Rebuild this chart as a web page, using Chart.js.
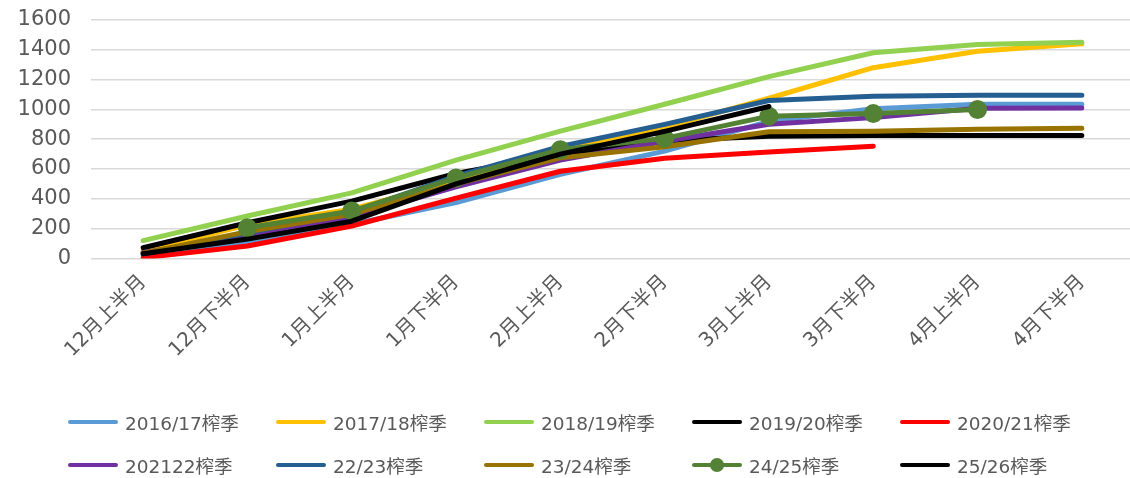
<!DOCTYPE html>
<html>
<head>
<meta charset="utf-8">
<script src="https://cdn.jsdelivr.net/npm/chart.js@4.4.0/dist/chart.umd.min.js"></script>
<style>
  body { margin: 0; background: #fff; }
  #wrap { position: relative; width: 1130px; height: 478px; overflow: hidden; }
  #legend {
    position: absolute; left: 68px; top: 410px;
    display: grid; grid-template-columns: repeat(5, 208px); row-gap: 19px;
    font-family: "DejaVu Sans", "Noto Sans CJK SC", sans-serif; font-size: 18.5px; color: #595959;
  }
  .item { display: flex; align-items: center; height: 24px; white-space: nowrap; }
  .swatch { position: relative; width: 50px; height: 4px; border-radius: 2px; margin-right: 7px; }
  .dot { position: absolute; left: 18px; top: -5px; width: 14px; height: 14px; border-radius: 7px; }
</style>
</head>
<body>
<div id="wrap">
  <canvas id="chart1" width="1146" height="478"></canvas>
  <div id="legend"></div>
</div>
<script>
// categories (half-month periods)
const periods = ['12月上半月', '12月下半月', '1月上半月', '1月下半月', '2月上半月',
                 '2月下半月', '3月上半月', '3月下半月', '4月上半月', '4月下半月'];

// cumulative values per season
const s1617 = [20, 110, 230, 375, 565, 720, 920, 1005, 1035, 1035];
const s1718 = [50, 225, 330, 520, 720, 880, 1075, 1280, 1390, 1440];
const s1819 = [120, 285, 440, 660, 855, 1035, 1220, 1380, 1435, 1450];
const s1920 = [72, 240, 385, 570, 700, 790, 820, 825, 825, 825];
const s2021 = [5, 84, 218, 405, 585, 672, 715, 753, null, null];
const s2122 = [40, 150, 280, 480, 660, 786, 900, 945, 1008, 1010];
const s2223 = [30, 172, 310, 552, 752, 900, 1060, 1088, 1095, 1095];
const s2324 = [35, 180, 297, 500, 675, 750, 850, 853, 867, 873];
const s2425 = [null, 206, 318, 540, 730, 806, 955, 972, 1000, null];
const s2526 = [32, 130, 250, 500, 700, 853, 1020, null, null, null];

const seasonNames = ['2016/17榨季', '2017/18榨季', '2018/19榨季', '2019/20榨季', '2020/21榨季',
                     '202122榨季', '22/23榨季', '23/24榨季', '24/25榨季', '25/26榨季'];
const seasonColors = ['#5B9BD5', '#FFC000', '#92D050', '#000000', '#FF0000',
                      '#7030A0', '#255E91', '#997300', '#548235', '#000000'];
const seasonData = [s1617, s1718, s1819, s1920, s2021, s2122, s2223, s2324, s2425, s2526];

const fontFamily = '"DejaVu Sans", "Noto Sans CJK SC", sans-serif';

const datasets = seasonNames.map((name, i) => ({
    label: name,
    data: seasonData[i],
    borderColor: seasonColors[i],
    backgroundColor: seasonColors[i],
    borderWidth: 5,
    pointRadius: i == 8 ? 7 : 0,
    pointHoverRadius: i == 8 ? 7 : 0,
    tension: 0,
    borderCapStyle: 'round',
    borderJoinStyle: 'round',
    // later seasons on top, like the spreadsheet
    order: -i
}));

var chart1Ctx = document.getElementById('chart1').getContext('2d');
var chart1 = new Chart(chart1Ctx, {
    type: 'line',
    data: { labels: periods, datasets: datasets },
    options: {
        responsive: false,
        animation: false,
        layout: { padding: { left: 18, right: 0, top: 20, bottom: 112 } },
        plugins: {
            legend: { display: false },
            tooltip: { enabled: false }
        },
        scales: {
            x: {
                offset: true,
                grid: { display: false },
                border: { display: false },
                ticks: {
                    color: '#595959',
                    font: { family: fontFamily, size: 20 },
                    maxRotation: 45,
                    minRotation: 45,
                    padding: 4
                },
                // let the rotated labels hang out to the left like in the sheet
                afterFit: s => { s.paddingLeft = 0; s.paddingRight = 0; }
            },
            y: {
                min: 0,
                max: 1600,
                grid: { color: '#D9D9D9', lineWidth: 1.5, drawTicks: false },
                border: { display: false },
                ticks: {
                    stepSize: 200,
                    autoSkip: false,
                    callback: v => String(v),
                    color: '#595959',
                    font: { family: fontFamily, size: 21 },
                    padding: 20
                },
                afterFit: s => { s.paddingTop = 0; s.paddingBottom = 0; s.width = 73; }
            }
        }
    }
});

// legend laid out in fixed columns
var legendDiv = document.getElementById('legend');
seasonNames.forEach((name, i) => {
    let item = document.createElement('div');
    item.className = 'item';
    let sw = document.createElement('span');
    sw.className = 'swatch';
    sw.style.background = seasonColors[i];
    if (i == 8) {
        let dot = document.createElement('span');
        dot.className = 'dot';
        dot.style.background = seasonColors[i];
        sw.appendChild(dot);
    }
    item.appendChild(sw);
    item.appendChild(document.createTextNode(name));
    legendDiv.appendChild(item);
});
</script>
</body>
</html>
